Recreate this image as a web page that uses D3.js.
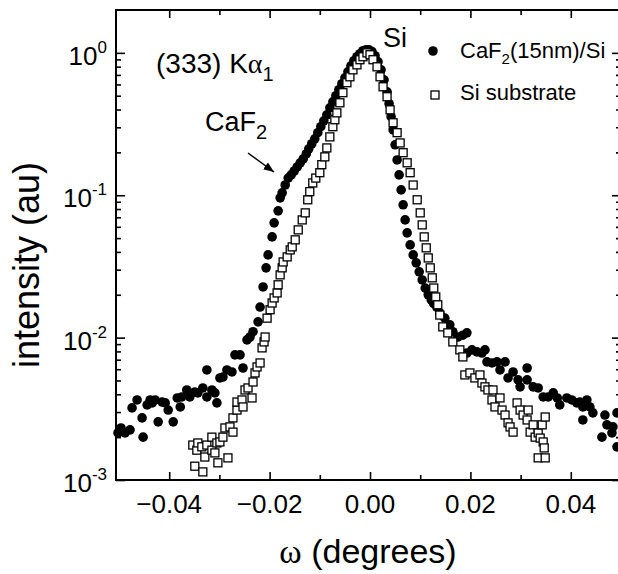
<!DOCTYPE html>
<html>
<head>
<meta charset="utf-8">
<script src="https://cdnjs.cloudflare.com/ajax/libs/d3/7.8.5/d3.min.js"></script>
<style>
  body { margin: 0; background: #fff; }
  svg { display: block; font-family: "Liberation Sans", Arial, sans-serif; }
</style>
</head>
<body>
<svg></svg>
<script>
var width = 618;
var height = 574;
var plotLeft = 116, plotRight = 621, plotTop = 10, plotBottom = 480;

// CaF2(15nm)/Si  -> filled circles  [omega (deg), intensity (au)]
var filmPoints = [
  [-0.0502,2.14e-3],[-0.0496,2.32e-3],[-0.0488,2.14e-3],[-0.0478,2.25e-3],[-0.0474,3.21e-3],
  [-0.0464,3.65e-3],[-0.0454,2.73e-3],[-0.0452,2.0e-3],[-0.0444,3.37e-3],[-0.0438,3.65e-3],
  [-0.0434,3.48e-3],[-0.0428,3.65e-3],[-0.0422,2.56e-3],[-0.0414,3.53e-3],[-0.0408,3.48e-3],
  [-0.0402,3.10e-3],[-0.0392,2.56e-3],[-0.0384,3.77e-3],[-0.0378,3.26e-3],[-0.0375,3.83e-3],
  [-0.0365,4.29e-3],[-0.0359,3.83e-3],[-0.0349,4.15e-3],[-0.0343,4.09e-3],[-0.0333,4.43e-3],
  [-0.0325,3.83e-3],[-0.0325,5.93e-3],[-0.0315,4.29e-3],[-0.0309,4.09e-3],[-0.0305,3.48e-3],
  [-0.0299,5.21e-3],[-0.0293,5.29e-3],[-0.0285,5.93e-3],[-0.0275,5.74e-3],[-0.0269,7.56e-3],
  [-0.0259,7.56e-3],[-0.0253,6.12e-3],[-0.0245,9.64e-3],[-0.0239,1.01e-2],[-0.0233,1.10e-2],
  [-0.0223,1.29e-2],[-0.0219,1.64e-2],[-0.0213,2.27e-2],[-0.0207,3.09e-2],[-0.0203,3.81e-2],
  [-0.0195,5.10e-2],[-0.0191,6.40e-2],[-0.0183,7.77e-2],[-0.0179,9.59e-2],[-0.0175,0.104],
  [-0.0169,0.118],[-0.0163,0.132],[-0.0157,0.139],[-0.0151,0.148],[-0.0145,0.158],
  [-0.0139,0.169],[-0.0133,0.180],[-0.0127,0.195],[-0.0122,0.212],[-0.0116,0.230],
  [-0.0110,0.249],[-0.0104,0.275],[-0.0098,0.303],[-0.0092,0.333],[-0.0086,0.367],
  [-0.0080,0.411],[-0.0074,0.453],[-0.0068,0.500],[-0.0062,0.551],[-0.0056,0.607],
  [-0.0050,0.668],[-0.0044,0.736],[-0.0038,0.811],[-0.0032,0.880],[-0.0026,0.939],
  [-0.0020,0.986],[-0.0014,1.035],[-0.0008,1.05],[-0.0002,1.05],[0.0004,1.02],
  [0.0010,0.955],[0.0016,0.865],[0.0022,0.760],[0.0028,0.647],[0.0034,0.533],
  [0.0038,0.439],[0.0042,0.356],[0.0046,0.288],[0.0050,0.226],[0.0054,0.177],
  [0.0058,0.139],[0.0062,0.109],[0.0066,8.57e-2],[0.0070,6.71e-2],[0.0074,5.44e-2],
  [0.0080,4.48e-2],[0.0086,3.81e-2],[0.0092,3.35e-2],[0.0098,2.90e-2],[0.0104,2.54e-2],
  [0.0110,2.23e-2],[0.0116,2.0e-2],[0.0122,1.84e-2],[0.0127,1.73e-2],[0.0133,1.64e-2],
  [0.0139,1.49e-2],[0.0149,1.37e-2],[0.0159,1.23e-2],[0.0165,1.10e-2],[0.0175,1.01e-2],
  [0.0185,1.04e-2],[0.0193,1.08e-2],[0.0193,7.80e-3],[0.0203,8.20e-3],[0.0213,7.94e-3],
  [0.0223,7.80e-3],[0.0229,8.20e-3],[0.0233,6.75e-3],[0.0243,6.64e-3],[0.0253,6.75e-3],
  [0.0259,5.93e-3],[0.0269,6.75e-3],[0.0275,5.21e-3],[0.0285,5.74e-3],[0.0295,5.05e-3],
  [0.0299,4.51e-3],[0.0313,6.12e-3],[0.0313,5.05e-3],[0.0325,4.51e-3],[0.0335,4.43e-3],
  [0.0345,3.83e-3],[0.0355,3.83e-3],[0.0365,4.09e-3],[0.0373,3.77e-3],[0.0378,3.37e-3],
  [0.0392,3.77e-3],[0.0402,3.65e-3],[0.0412,3.48e-3],[0.0418,3.53e-3],[0.0424,3.26e-3],
  [0.0424,2.64e-3],[0.0432,3.65e-3],[0.0438,3.26e-3],[0.0444,2.96e-3],[0.0462,2.0e-3],
  [0.0468,2.86e-3],[0.0472,2.44e-3],[0.0482,2.14e-3],[0.0484,2.36e-3],[0.0492,2.96e-3],
  [0.0492,1.71e-3]
];

// Si substrate -> open squares  [omega (deg), intensity (au)]
var substratePoints = [
  [-0.0353,1.76e-3],[-0.0349,1.25e-3],[-0.0345,1.62e-3],[-0.0343,1.82e-3],[-0.0335,1.71e-3],
  [-0.0333,1.14e-3],[-0.0329,1.45e-3],[-0.0325,1.76e-3],[-0.0315,2.0e-3],[-0.0315,1.62e-3],
  [-0.0309,1.55e-3],[-0.0305,1.82e-3],[-0.0303,1.32e-3],[-0.0299,1.85e-3],[-0.0293,2.0e-3],
  [-0.0289,2.32e-3],[-0.0283,1.43e-3],[-0.0279,2.36e-3],[-0.0273,2.17e-3],[-0.0273,2.73e-3],
  [-0.0265,3.10e-3],[-0.0265,3.53e-3],[-0.0255,3.65e-3],[-0.0253,3.26e-3],[-0.0249,4.29e-3],
  [-0.0243,4.43e-3],[-0.0235,3.77e-3],[-0.0233,4.88e-3],[-0.0229,5.65e-3],[-0.0225,6.22e-3],
  [-0.0219,6.64e-3],[-0.0215,8.47e-3],[-0.0211,9.33e-3],[-0.0209,1.01e-2],[-0.0205,1.37e-2],
  [-0.0199,1.57e-2],[-0.0195,1.75e-2],[-0.0191,1.90e-2],[-0.0185,2.06e-2],[-0.0183,2.35e-2],
  [-0.0179,2.76e-2],[-0.0175,3.09e-2],[-0.0173,3.40e-2],[-0.0165,3.69e-2],[-0.0159,4.13e-2],
  [-0.0155,4.34e-2],[-0.0149,4.86e-2],[-0.0143,5.71e-2],[-0.0135,6.71e-2],[-0.0129,7.52e-2],
  [-0.0124,9.29e-2],[-0.0120,0.106],[-0.0114,0.122],[-0.0108,0.132],[-0.0100,0.144],
  [-0.0096,0.164],[-0.0090,0.186],[-0.0086,0.215],[-0.0080,0.257],[-0.0074,0.303],
  [-0.0070,0.339],[-0.0066,0.379],[-0.0060,0.446],[-0.0054,0.525],[-0.0046,0.617],
  [-0.0040,0.679],[-0.0034,0.760],[-0.0026,0.824],[-0.0020,0.895],[-0.0014,0.939],
  [-0.0006,1.00],[0.0000,0.970],[0.0006,0.895],[0.0014,0.798],[0.0020,0.679],
  [0.0026,0.578],[0.0034,0.492],[0.0040,0.398],[0.0046,0.323],[0.0054,0.275],
  [0.0060,0.233],[0.0066,0.199],[0.0074,0.169],[0.0080,0.144],[0.0086,0.118],
  [0.0094,9.29e-2],[0.0100,7.52e-2],[0.0104,6.19e-2],[0.0108,5.10e-2],[0.0112,4.27e-2],
  [0.0116,3.63e-2],[0.0120,3.09e-2],[0.0124,2.63e-2],[0.0127,2.23e-2],[0.0131,1.93e-2],
  [0.0135,1.70e-2],[0.0139,1.44e-2],[0.0145,1.19e-2],[0.0155,1.08e-2],[0.0165,9.33e-3],
  [0.0179,8.20e-3],[0.0185,7.32e-3],[0.0189,5.47e-3],[0.0199,5.65e-3],[0.0209,5.21e-3],
  [0.0219,5.47e-3],[0.0223,4.80e-3],[0.0229,4.51e-3],[0.0235,4.29e-3],[0.0243,3.65e-3],
  [0.0245,4.29e-3],[0.0249,3.26e-3],[0.0259,3.77e-3],[0.0263,3.10e-3],[0.0269,2.86e-3],
  [0.0275,2.52e-3],[0.0279,2.36e-3],[0.0285,2.17e-3],[0.0293,3.48e-3],[0.0299,3.10e-3],
  [0.0305,2.86e-3],[0.0313,2.64e-3],[0.0315,3.10e-3],[0.0319,2.17e-3],[0.0325,2.44e-3],
  [0.0329,2.0e-3],[0.0335,2.14e-3],[0.0335,1.43e-3],[0.0339,1.97e-3],[0.0343,2.44e-3],
  [0.0345,1.85e-3],[0.0347,1.68e-3],[0.0349,2.77e-3],[0.0349,1.43e-3]
];

var xMajorTicks = [-0.04, -0.02, 0.00, 0.02, 0.04];
var xMinorTicks = [-0.03, -0.01, 0.01, 0.03];
var yMajorTicks = [1e-3, 1e-2, 1e-1, 1];
var yExponents = ["-3", "-2", "-1", "0"];
var yMinorTicks = [];
[1e-3, 1e-2, 1e-1].forEach(function(dec){
  for (var m = 2; m <= 9; m++) yMinorTicks.push(m * dec);
});

var xScale = d3.scaleLinear()
  .domain([-0.0506, 0.0500])
  .range([plotLeft, plotRight]);

var yScale = d3.scaleLog()
  .domain([1e-3, 2.0])
  .range([plotBottom, plotTop]);

var svg = d3.select('svg')
  .attr('width', width)
  .attr('height', height);

function addAxis(axis, transform, size){
  var g = svg.append('g')
    .attr('transform', transform)
    .call(axis.tickSize(size).tickSizeOuter(0).tickFormat(''));
  g.select('.domain').remove();
  g.selectAll('line').attr('stroke', '#000').attr('stroke-width', 1.6);
  return g;
}

// ticks point inward on all four sides
addAxis(d3.axisBottom(xScale).tickValues(xMajorTicks), `translate(0,${plotBottom})`, -8);
addAxis(d3.axisBottom(xScale).tickValues(xMinorTicks), `translate(0,${plotBottom})`, -5);
addAxis(d3.axisTop(xScale).tickValues(xMajorTicks), `translate(0,${plotTop})`, -8);
addAxis(d3.axisTop(xScale).tickValues(xMinorTicks), `translate(0,${plotTop})`, -5);
addAxis(d3.axisLeft(yScale).tickValues(yMajorTicks), `translate(${plotLeft},0)`, -9);
addAxis(d3.axisLeft(yScale).tickValues(yMinorTicks), `translate(${plotLeft},0)`, -5);
addAxis(d3.axisRight(yScale).tickValues(yMajorTicks), `translate(${plotRight},0)`, -9);
addAxis(d3.axisRight(yScale).tickValues(yMinorTicks), `translate(${plotRight},0)`, -5);

// frame
svg.append('rect')
  .attr('x', plotLeft)
  .attr('y', plotTop)
  .attr('width', plotRight - plotLeft)
  .attr('height', plotBottom - plotTop)
  .attr('fill', 'none')
  .attr('stroke', '#000')
  .attr('stroke-width', 2);

// x tick labels
svg.append('g')
  .selectAll('text')
  .data(xMajorTicks)
  .enter()
  .append('text')
    .attr('x', d => xScale(d))
    .attr('y', 513)
    .attr('text-anchor', 'middle')
    .style('font-size', '26px')
    .text(d => d3.format('.2f')(d));

// y tick labels, 10 with a raised exponent
var yLabels = svg.append('g')
  .selectAll('text')
  .data(yMajorTicks)
  .enter()
  .append('text')
    .attr('x', 107)
    .attr('y', d => yScale(d) + 12)
    .attr('text-anchor', 'end')
    .style('font-size', '26px');
yLabels.append('tspan').text('10');
yLabels.append('tspan')
  .attr('dy', -12)
  .style('font-size', '17px')
  .text((d, i) => yExponents[i]);

// data
svg.append('g')
  .selectAll('circle')
  .data(filmPoints)
  .enter()
  .append('circle')
    .attr('cx', d => xScale(d[0]))
    .attr('cy', d => yScale(d[1]))
    .attr('r', 4.8)
    .attr('fill', '#000');

svg.append('g')
  .selectAll('rect')
  .data(substratePoints)
  .enter()
  .append('rect')
    .attr('x', d => xScale(d[0]) - 4)
    .attr('y', d => yScale(d[1]) - 4)
    .attr('width', 8)
    .attr('height', 8)
    .attr('fill', '#fff')
    .attr('stroke', '#000')
    .attr('stroke-width', 1.3);

// annotations
var note = svg.append('text')
  .attr('x', 156)
  .attr('y', 73)
  .style('font-size', '28px');
note.append('tspan').text('(333) K');
note.append('tspan').style('font-family', '"Liberation Serif", serif').text('\u03b1');
note.append('tspan').attr('dy', 8).style('font-size', '20px').text('1');

var caf = svg.append('text')
  .attr('x', 205)
  .attr('y', 131)
  .style('font-size', '27px');
caf.append('tspan').text('CaF');
caf.append('tspan').attr('dy', 8).style('font-size', '20px').text('2');

svg.append('text')
  .attr('x', 383)
  .attr('y', 47)
  .style('font-size', '27px')
  .text('Si');

svg.append('defs')
  .append('marker')
    .attr('id', 'head')
    .attr('viewBox', '0 0 10 10')
    .attr('refX', 10)
    .attr('refY', 5)
    .attr('markerWidth', 7)
    .attr('markerHeight', 7)
    .attr('orient', 'auto')
  .append('path')
    .attr('d', 'M0,1 L10,5 L0,9 Z')
    .attr('fill', '#000');

svg.append('line')
  .attr('x1', 248).attr('y1', 153)
  .attr('x2', 274).attr('y2', 172)
  .attr('stroke', '#000')
  .attr('stroke-width', 1.5)
  .attr('marker-end', 'url(#head)');

// legend
svg.append('circle')
  .attr('cx', 433).attr('cy', 51)
  .attr('r', 4.8)
  .attr('fill', '#000');
var leg1 = svg.append('text')
  .attr('x', 460).attr('y', 58)
  .style('font-size', '22px');
leg1.append('tspan').text('CaF');
leg1.append('tspan').attr('dy', 6).style('font-size', '15px').text('2');
leg1.append('tspan').attr('dy', -6).text('(15nm)/Si');

svg.append('rect')
  .attr('x', 431).attr('y', 91)
  .attr('width', 8).attr('height', 8)
  .attr('fill', '#fff')
  .attr('stroke', '#000')
  .attr('stroke-width', 1.3);
svg.append('text')
  .attr('x', 460).attr('y', 100)
  .style('font-size', '22px')
  .text('Si substrate');

// axis titles
var xTitle = svg.append('text')
  .attr('x', 368)
  .attr('y', 563)
  .attr('text-anchor', 'middle')
  .style('font-size', '34px');
xTitle.append('tspan').style('font-family', '"Liberation Serif", serif').text('\u03c9');
xTitle.append('tspan').text(' (degrees)');

svg.append('text')
  .attr('transform', 'rotate(-90)')
  .attr('x', -265)
  .attr('y', 39)
  .attr('text-anchor', 'middle')
  .style('font-size', '36px')
  .text('intensity (au)');
</script>
</body>
</html>
